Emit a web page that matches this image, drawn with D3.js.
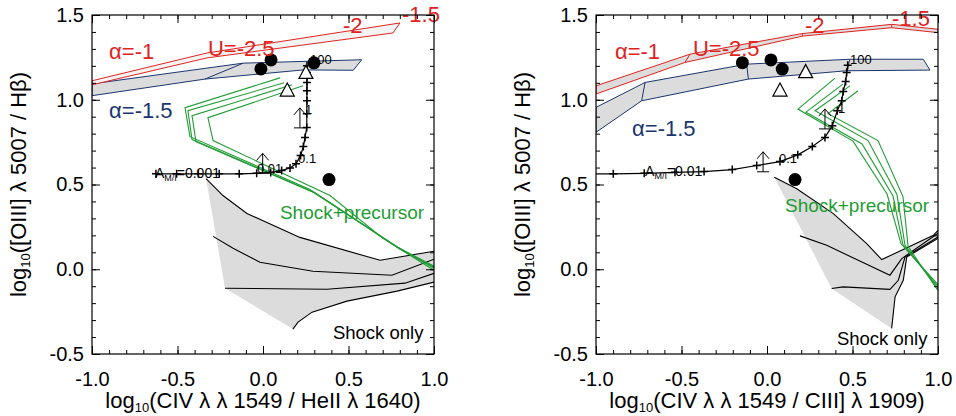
<!DOCTYPE html>
<html>
<head>
<meta charset="utf-8">
<script src="https://cdn.jsdelivr.net/npm/d3@7"></script>
<style>
  body { margin: 0; background: #fff; }
  svg { font-family: "Liberation Sans", Arial, sans-serif; }
</style>
</head>
<body>
<svg id="chart" width="956" height="416"></svg>
<script>
// tick values
const xMajorTicks = [-1.0, -0.5, 0.0, 0.5, 1.0];
const yMajorTicks = [-0.5, 0.0, 0.5, 1.0, 1.5];
const xMinorTicks = d3.range(-10, 11).map((i) => i / 10);
const yMinorTicks = d3.range(-5, 16).map((i) => i / 10);

// ---- left panel: CIV/HeII ----
const leftRedUpper = [[-1.0, 1.112], [-0.327, 1.276], [0.801, 1.453]];
const leftRedLower = [[-1.0, 1.088], [-0.327, 1.247], [0.760, 1.394]];
const leftBlueUpper = [[-1.0, 1.094], [-0.115, 1.216], [0.577, 1.236]];
const leftBlueLower = [[-1.0, 1.024], [-0.339, 1.122], [0.236, 1.176], [0.528, 1.174]];
const leftBlueCross = [[[-0.339, 1.122], [-0.115, 1.216]]];
const leftGreen = [
  [[0.099, 1.129], [-0.456, 0.953], [-0.427, 0.782], [0.275, 0.471], [0.772, 0.141], [1.0, 0.006]],
  [[0.123, 1.1], [-0.439, 0.935], [-0.415, 0.765], [0.287, 0.459], [0.789, 0.129], [1.0, 0.018]],
  [[0.17, 1.088], [-0.415, 0.906], [-0.392, 0.753], [0.31, 0.447], [0.801, 0.118], [1.0, 0.012]],
  [[0.234, 1.082], [-0.322, 0.894], [-0.292, 0.759], [0.392, 0.435], [0.702, 0.182], [1.0, -0.006]],
];
const leftShock = [
  [[-0.333, 0.535], [-0.234, 0.435], [-0.094, 0.329], [0.216, 0.188], [0.684, 0.053], [1.0, 0.106]],
  [[-0.292, 0.194], [-0.175, 0.124], [-0.018, 0.041], [0.292, -0.012], [0.754, -0.035], [1.0, 0.059]],
  [[-0.222, -0.112], [0.374, -0.118], [0.83, -0.082], [1.0, -0.024]],
  [[0.175, -0.353], [0.205, -0.312], [0.287, -0.253], [0.491, -0.188], [0.784, -0.129], [1.0, -0.076]],
];
const leftAmi = [
  [-0.626, 0.563], [-0.505, 0.563], [-0.378, 0.563], [-0.256, 0.563], [-0.139, 0.563],
  [-0.037, 0.566], [0.045, 0.571], [0.109, 0.582], [0.158, 0.598], [0.193, 0.622],
  [0.22, 0.671], [0.236, 0.724], [0.246, 0.778], [0.256, 0.837], [0.256, 0.918],
  [0.257, 0.994], [0.257, 1.053], [0.257, 1.102], [0.257, 1.161], [0.257, 1.2],
];
const leftCircles = [[-0.012, 1.182], [0.047, 1.235], [0.298, 1.218], [0.386, 0.529]];
const leftTriangles = [[0.142, 1.057], [0.251, 1.161]];
const leftArrows = [[-0.002, 0.566], [0.216, 0.834]];

// ---- right panel: CIV/CIII] ----
const rightRedUpper = [[-1.0, 1.082], [-0.45, 1.269], [0.203, 1.39], [0.729, 1.445], [1.0, 1.416]];
const rightRedLower = [[-1.0, 1.034], [-0.48, 1.22], [0.211, 1.376], [0.729, 1.425], [1.0, 1.396]];
const rightBlueUpper = [[-1.0, 0.955], [-0.713, 1.102], [-0.119, 1.21], [0.485, 1.239], [0.914, 1.239]];
const rightBlueLower = [[-1.0, 0.808], [-0.733, 0.994], [-0.109, 1.122], [0.466, 1.171], [0.953, 1.175]];
const rightGreen = [
  [[0.398, 1.128], [0.181, 0.945], [0.503, 0.756], [0.702, 0.444], [0.784, 0.15], [1.0, -0.091]],
  [[0.444, 1.092], [0.228, 0.927], [0.556, 0.739], [0.737, 0.432], [0.795, 0.144], [1.0, -0.103]],
  [[0.485, 1.082], [0.281, 0.935], [0.591, 0.759], [0.76, 0.441], [0.807, 0.141], [1.0, -0.115]],
  [[0.532, 1.053], [0.357, 0.918], [0.649, 0.759], [0.795, 0.429], [0.825, 0.135], [1.0, -0.126]],
];
const rightShock = [
  [[0.043, 0.543], [0.174, 0.475], [0.388, 0.328], [0.583, 0.151], [0.671, 0.057], [0.973, 0.2], [1.0, 0.229]],
  [[0.193, 0.197], [0.349, 0.141], [0.719, -0.035], [0.788, 0.063], [1.0, 0.212]],
  [[0.378, -0.114], [0.446, -0.104], [0.719, -0.119], [0.768, -0.065], [0.807, 0.072], [1.0, 0.19]],
  [[0.729, -0.349], [0.749, -0.163], [0.797, -0.065], [0.817, 0.072], [1.0, 0.182]],
];
const rightAmi = [
  [-1.0, 0.563], [-0.899, 0.563], [-0.718, 0.566], [-0.538, 0.572], [-0.368, 0.576],
  [-0.203, 0.588], [-0.06, 0.612], [0.076, 0.635], [0.18, 0.675], [0.265, 0.724],
  [0.339, 0.778], [0.382, 0.847], [0.411, 0.935], [0.437, 0.994], [0.446, 1.049],
  [0.46, 1.108], [0.466, 1.161], [0.472, 1.204],
];
const rightCircles = [[-0.144, 1.219], [0.023, 1.235], [0.089, 1.181], [0.164, 0.529]];
const rightTriangles = [[0.076, 1.057], [0.226, 1.166]];
const rightArrows = [[-0.023, 0.575], [0.339, 0.828]];

const RED = "#e0231f";
const NAVY = "#1b356f";
const GREEN = "#1f9c34";
const GRAY = "#dcdcdc";

const svg = d3.select("#chart");

function pairs(upper, lower, idx) {
  return idx.map((i) => [upper[i], lower[i]]);
}

const panels = [
  {
    id: "L", left: 92, right: 434,
    xLabel: "(CIV λ λ 1549 / HeII λ 1640)",
    red: { upper: leftRedUpper, lower: leftRedLower, cross: [], fill: "#f4f4f4" },
    blue: { upper: leftBlueUpper, lower: leftBlueLower, cross: leftBlueCross },
    green: leftGreen, shock: leftShock, ami: leftAmi,
    circles: leftCircles, triangles: leftTriangles, arrows: leftArrows,
    labels: [
      { t: "α=-1", x: -0.9, y: 1.241, c: RED, s: 22 },
      { t: "U=-2.5", x: -0.322, y: 1.259, c: RED, s: 22 },
      { t: "-2", x: 0.468, y: 1.394, c: RED, s: 22 },
      { t: "-1.5", x: 0.813, y: 1.459, c: RED, s: 22 },
      { t: "α=-1.5", x: -0.9, y: 0.894, c: NAVY, s: 22 },
      { t: "Shock+precursor", x: 0.099, y: 0.294, c: GREEN, s: 19 },
      { t: "Shock only", x: 0.409, y: -0.412, c: "#000", s: 18.5 },
      { t: "100", x: 0.275, y: 1.212, c: "#000", s: 13 },
      { t: "1", x: 0.246, y: 0.918, c: "#000", s: 13 },
      { t: "0.1", x: 0.205, y: 0.629, c: "#000", s: 13 },
      { t: "0.01", x: -0.035, y: 0.565, c: "#000", s: 13 },
    ],
    ami0: { t: "=0.001", x: -0.632, y: 0.541 },
  },
  {
    id: "R", left: 596, right: 938,
    xLabel: "(CIV λ λ 1549 / CIII] λ 1909)",
    red: { upper: rightRedUpper, lower: rightRedLower, cross: pairs(rightRedUpper, rightRedLower, [1, 2, 3]), fill: GRAY },
    blue: { upper: rightBlueUpper, lower: rightBlueLower, cross: pairs(rightBlueUpper, rightBlueLower, [1, 2, 3]) },
    green: rightGreen, shock: rightShock, ami: rightAmi,
    circles: rightCircles, triangles: rightTriangles, arrows: rightArrows,
    labels: [
      { t: "α=-1", x: -0.889, y: 1.241, c: RED, s: 22 },
      { t: "U=-2.5", x: -0.433, y: 1.259, c: RED, s: 22 },
      { t: "-2", x: 0.222, y: 1.394, c: RED, s: 22 },
      { t: "-1.5", x: 0.731, y: 1.435, c: RED, s: 22 },
      { t: "α=-1.5", x: -0.789, y: 0.788, c: NAVY, s: 22 },
      { t: "Shock+precursor", x: 0.105, y: 0.335, c: GREEN, s: 19 },
      { t: "Shock only", x: 0.409, y: -0.447, c: "#000", s: 18.5 },
      { t: "100", x: 0.485, y: 1.212, c: "#000", s: 13 },
      { t: "1", x: 0.415, y: 0.924, c: "#000", s: 13 },
      { t: "0.1", x: 0.07, y: 0.629, c: "#000", s: 13 },
    ],
    ami0: { t: "=0.01", x: -0.713, y: 0.553 },
  },
];

const plotTop = 15, plotBottom = 354;

panels.forEach((p) => {
  const x = d3.scaleLinear().domain([-1, 1]).range([p.left, p.right]);
  const y = d3.scaleLinear().domain([-0.5, 1.5]).range([plotBottom, plotTop]);
  const line = d3.line().x((d) => x(d[0])).y((d) => y(d[1]));

  svg.append("clipPath").attr("id", "clip" + p.id)
    .append("rect").attr("x", p.left).attr("y", plotTop)
    .attr("width", p.right - p.left).attr("height", plotBottom - plotTop);

  const g = svg.append("g").attr("clip-path", `url(#clip${p.id})`);

  // zona shock only
  const shockArea = p.shock[0]
    .concat(p.shock[3].slice().reverse())
    .concat([p.shock[2][0]]);
  g.append("path").attr("d", line(shockArea) + "Z").attr("fill", GRAY).attr("stroke", "none");
  p.shock.forEach((s) => {
    g.append("path").attr("d", line(s)).attr("fill", "none").attr("stroke", "#000").attr("stroke-width", 1.1);
  });

  // bandas de fotoionizacao
  [[p.blue, NAVY, GRAY], [p.red, RED, p.red.fill]].forEach(([band, color, fill]) => {
    const poly = band.upper.concat(band.lower.slice().reverse());
    g.append("path").attr("d", line(poly) + "Z")
      .attr("fill", fill).attr("stroke", color).attr("stroke-width", 1);
    band.cross.forEach((seg) => {
      g.append("path").attr("d", line(seg)).attr("fill", "none").attr("stroke", color).attr("stroke-width", 1);
    });
  });

  // shock + precursor
  p.green.forEach((s) => {
    g.append("path").attr("d", line(s)).attr("fill", "none").attr("stroke", GREEN).attr("stroke-width", 1.1);
  });

  // sequencia A_M/I
  g.append("path").attr("d", line(p.ami)).attr("fill", "none").attr("stroke", "#000").attr("stroke-width", 1.2);
  g.selectAll(null).data(p.ami.filter((d) => d[0] > -0.99)).enter()
    .append("path")
    .attr("transform", (d) => `translate(${x(d[0])},${y(d[1])})`)
    .attr("d", "M-4,0H4M0,-4V4")
    .attr("stroke", "#000").attr("stroke-width", 1.5);

  // limites inferiores
  p.arrows.forEach((d) => {
    const ax = x(d[0]), ay = y(d[1]);
    g.append("path")
      .attr("d", `M${ax - 6},${ay}H${ax + 6}M${ax},${ay}V${ay - 20}M${ax - 6},${ay - 13}L${ax},${ay - 20}L${ax + 6},${ay - 13}`)
      .attr("fill", "none").attr("stroke", "#000").attr("stroke-width", 1);
  });

  // triangulos e circulos
  g.selectAll(null).data(p.triangles).enter().append("path")
    .attr("transform", (d) => `translate(${x(d[0])},${y(d[1])})`)
    .attr("d", "M-7,6L0,-7L7,6Z")
    .attr("fill", "#fff").attr("stroke", "#000").attr("stroke-width", 1.2);
  g.selectAll(null).data(p.circles).enter().append("circle")
    .attr("cx", (d) => x(d[0])).attr("cy", (d) => y(d[1])).attr("r", 6.5)
    .attr("fill", "#000");

  // textos
  p.labels.forEach((l) => {
    svg.append("text").attr("x", x(l.x)).attr("y", y(l.y))
      .attr("fill", l.c).attr("font-size", l.s).text(l.t);
  });
  const amiText = svg.append("text").attr("x", x(p.ami0.x)).attr("y", y(p.ami0.y)).attr("font-size", 14);
  amiText.append("tspan").text("A");
  amiText.append("tspan").attr("font-size", 9).attr("dy", 3).text("M/I");
  amiText.append("tspan").attr("dy", -3).text(p.ami0.t);

  // eixos
  const fmt = (d) => d.toFixed(1);
  const axes = [
    [d3.axisBottom(x), plotBottom, 0, xMajorTicks, xMinorTicks, true, 18],
    [d3.axisTop(x), plotTop, 0, xMajorTicks, xMinorTicks, false, 8],
    [d3.axisLeft(y), 0, p.left, yMajorTicks, yMinorTicks, true, 8],
    [d3.axisRight(y), 0, p.right, yMajorTicks, yMinorTicks, false, 8],
  ];
  axes.forEach(([axis, ty, tx, major, minor, showLabels, pad]) => {
    const ag = svg.append("g").attr("transform", `translate(${tx},${ty})`);
    ag.call(axis.tickValues(minor).tickSizeInner(-4).tickSizeOuter(0).tickFormat(""));
    ag.select(".domain").remove();
    const mg = svg.append("g").attr("transform", `translate(${tx},${ty})`);
    mg.call(axis.tickValues(major).tickSizeInner(-8).tickSizeOuter(0)
      .tickPadding(pad)
      .tickFormat(showLabels ? fmt : ""));
    mg.select(".domain").remove();
    mg.selectAll("text").attr("font-size", 20).attr("font-family", "Liberation Sans, Arial, sans-serif");
  });
  svg.selectAll(".tick line").attr("stroke", "#000");

  svg.append("rect").attr("x", p.left).attr("y", plotTop)
    .attr("width", p.right - p.left).attr("height", plotBottom - plotTop)
    .attr("fill", "none").attr("stroke", "#000").attr("stroke-width", 1.2);

  // titulos dos eixos
  const xt = svg.append("text").attr("x", (p.left + p.right) / 2).attr("y", 408)
    .attr("text-anchor", "middle").attr("font-size", 22);
  xt.append("tspan").text("log");
  xt.append("tspan").attr("font-size", 13).attr("dy", 4).text("10");
  xt.append("tspan").attr("dy", -4).text(p.xLabel);

  const yt = svg.append("text")
    .attr("transform", `translate(${p.left - 66},${(plotTop + plotBottom) / 2}) rotate(-90)`)
    .attr("text-anchor", "middle").attr("font-size", 22);
  yt.append("tspan").text("log");
  yt.append("tspan").attr("font-size", 13).attr("dy", 4).text("10");
  yt.append("tspan").attr("dy", -4).text("([OIII] λ 5007 / Hβ)");
});
</script>
</body>
</html>
